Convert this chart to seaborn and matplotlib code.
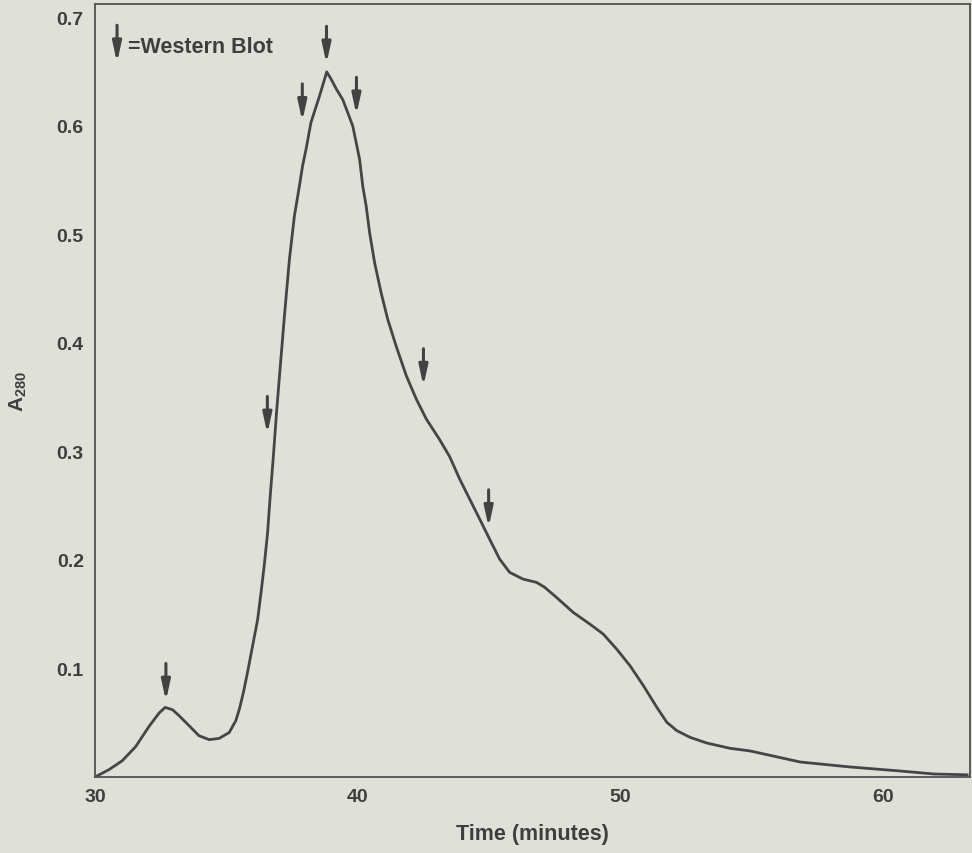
import matplotlib
matplotlib.use("Agg")
import matplotlib.pyplot as plt
import seaborn as sns
import pandas as pd
from matplotlib.patches import ArrowStyle

# Elution profile: time (minutes) vs absorbance at 280 nm
time_min = [30.00, 30.53, 31.04, 31.55, 32.06, 32.44, 32.67, 32.95, 33.20, 33.58,
            33.96, 34.35, 34.73, 35.11, 35.36, 35.50, 35.65, 35.81, 36.00, 36.19,
            36.32, 36.44, 36.57, 36.66, 36.79, 36.91, 37.01, 37.21, 37.40, 37.59,
            37.78, 37.90, 38.03, 38.22, 38.54, 38.82, 38.99, 39.18, 39.43, 39.62,
            39.81, 39.94, 40.07, 40.19, 40.32, 40.45, 40.64, 40.89, 41.14, 41.46,
            41.85, 42.23, 42.61, 43.11, 43.50, 43.88, 44.26, 44.64, 45.02, 45.40,
            45.78, 46.29, 46.80, 47.10, 47.56, 48.20, 48.83, 49.34, 49.85, 50.36,
            50.87, 51.38, 51.76, 52.14, 52.65, 53.28, 54.17, 54.93, 56.84, 58.75,
            60.65, 61.91, 63.20]
a280 = [0.0000, 0.0067, 0.0150, 0.0280, 0.0467, 0.0589, 0.0641, 0.0620, 0.0565, 0.0473,
        0.0380, 0.0344, 0.0356, 0.0410, 0.0519, 0.0630, 0.0780, 0.0970, 0.1210, 0.1450,
        0.1700, 0.1946, 0.2253, 0.2560, 0.2960, 0.3360, 0.3660, 0.4248, 0.4770, 0.5170,
        0.5445, 0.5630, 0.5780, 0.6030, 0.6270, 0.6496, 0.6427, 0.6340, 0.6240, 0.6120,
        0.5997, 0.5845, 0.5690, 0.5445, 0.5260, 0.5016, 0.4740, 0.4460, 0.4217, 0.3970,
        0.3695, 0.3480, 0.3297, 0.3110, 0.2950, 0.2744, 0.2560, 0.2376, 0.2190, 0.2007,
        0.1885, 0.1823, 0.1793, 0.1750, 0.1655, 0.1516, 0.1409, 0.1317, 0.1179, 0.1025,
        0.0841, 0.0642, 0.0504, 0.0427, 0.0365, 0.0313, 0.0264, 0.0240, 0.0138, 0.0092,
        0.0055, 0.0028, 0.0020]

# Fractions taken for Western blot (arrow x position and arrow tip height)
blot_time = [32.7, 36.56, 37.89, 38.81, 39.95, 42.5, 44.98]
blot_tip = [0.070, 0.316, 0.604, 0.657, 0.610, 0.360, 0.230]

x_ticks = [30, 40, 50, 60]
y_ticks = [0.1, 0.2, 0.3, 0.4, 0.5, 0.6, 0.7]

bg = "#dfe0d7"
ink = "#3e3e3e"

sns.set_theme(style="white")
plt.rcParams["font.family"] = ["Liberation Sans", "DejaVu Sans"]
plt.rcParams["font.weight"] = "bold"
plt.rcParams["mathtext.fontset"] = "custom"
plt.rcParams["mathtext.rm"] = "Liberation Sans:bold"
plt.rcParams["mathtext.it"] = "Liberation Sans:bold"
plt.rcParams["mathtext.bf"] = "Liberation Sans:bold"

fig = plt.figure(figsize=(9.72, 8.54), dpi=100, facecolor=bg)
ax = fig.add_axes([0.0977, 0.089, 0.9003, 0.905])
ax.set_facecolor(bg)

df = pd.DataFrame({"Time": time_min, "A280": a280})
sns.lineplot(data=df, x="Time", y="A280", ax=ax, color="#454545", lw=2.0,
             estimator=None, sort=False)

ax.set_xlim(30, 63.3)
ax.set_ylim(0, 0.712)
ax.set_xticks(x_ticks)
ax.set_xticklabels([str(t) for t in x_ticks])
ax.set_yticks(y_ticks)
ax.set_yticklabels([f"{v:.1f}" for v in y_ticks])
ax.tick_params(axis="both", direction="in", length=7, width=1.2, color=ink,
               labelsize=14, labelcolor=ink, pad=8)
for s in ax.spines.values():
    s.set_color("#505050")
    s.set_linewidth(1.3)

ax.set_xlabel("Time (minutes)", fontsize=15.5, color=ink, fontweight="bold")
ax.set_ylabel(r"A$_{\mathrm{280}}$", fontsize=15, color=ink, fontweight="bold")
ax.xaxis.set_label_coords(0.5, -0.073)
ax.xaxis.label.set_va("center")
ax.yaxis.set_label_coords(-0.088, 0.5)
ax.yaxis.label.set_va("center")

style = ArrowStyle("-|>", head_length=0.6, head_width=0.13)
arrow_kw = dict(arrowstyle=style, mutation_scale=20, lw=2.2, color="#424242",
                shrinkA=0, shrinkB=0)

for bx, by in zip(blot_time, blot_tip):
    ax.annotate("", xy=(bx, by), xytext=(0, 27), textcoords="offset points",
                arrowprops=arrow_kw)

# Key
ax.annotate("", xy=(30.84, 0.658), xytext=(0, 27), textcoords="offset points",
            arrowprops=arrow_kw)
ax.text(31.25, 0.673, "=Western Blot", fontsize=15.5, fontweight="bold",
        color=ink, ha="left", va="center")

fig.savefig("out.png", dpi=100, facecolor=bg)
